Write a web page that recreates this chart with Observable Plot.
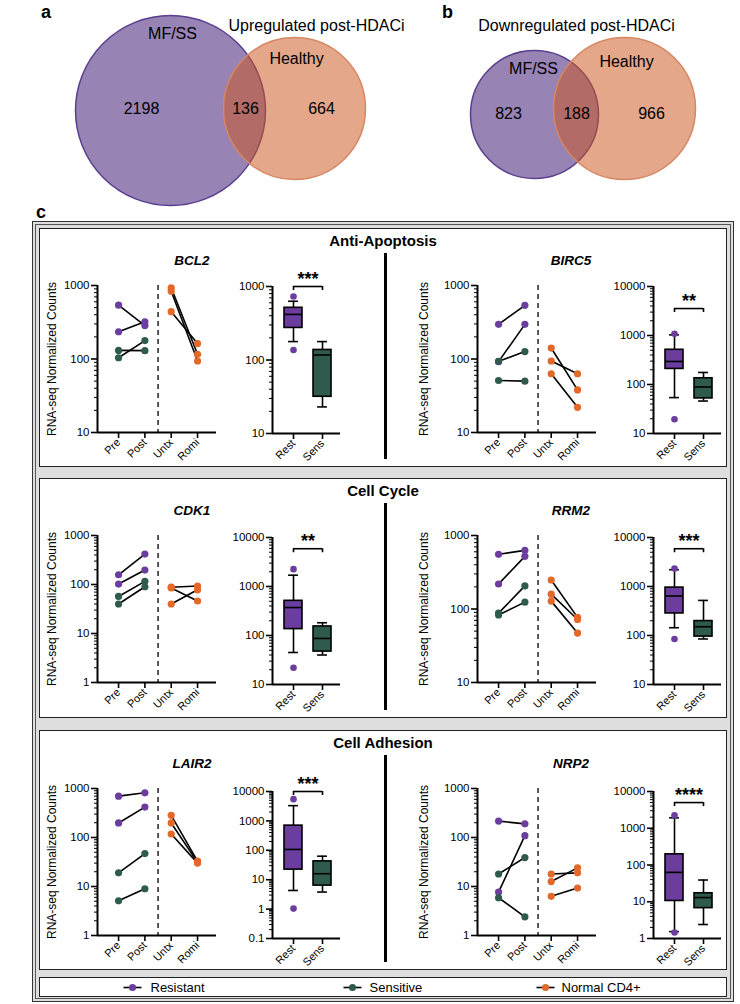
<!DOCTYPE html>
<html><head><meta charset="utf-8">
<script src="https://cdn.jsdelivr.net/npm/d3@7"></script>
<script src="https://cdn.jsdelivr.net/npm/@observablehq/plot@0.6"></script>
<style>
body{margin:0;background:#fff;font-family:"Liberation Sans",Arial,sans-serif;}
#fig{position:relative;width:740px;height:1004px;overflow:hidden;background:#fff;}
.t{position:absolute;line-height:1;white-space:nowrap;color:#000;}
</style></head>
<body><div id="fig"></div>
<script>
// ---------------- DATA ----------------
const vennTitles = ["Upregulated post-HDACi", "Downregulated post-HDACi"];
const vennSets = ["MF/SS", "Healthy"];
const vennUpCounts = [2198, 136, 664];      // MF/SS only, both, Healthy only
const vennDownCounts = [823, 188, 966];

const conditions = ["Pre", "Post", "Untx", "Romi"];
const boxGroups = ["Rest", "Sens"];
const legendNames = ["Resistant", "Sensitive", "Normal CD4+"];
const sections = ["Anti-Apoptosis", "Cell Cycle", "Cell Adhesion"];
const geneNames = ["BCL2", "BIRC5", "CDK1", "RRM2", "LAIR2", "NRP2"];
const patientGroups = ["Resistant", "Resistant", "Sensitive", "Sensitive"];

// paired values: pre/post (patients), untx/romi (normal CD4+)
const bcl2Pre = [540, 235, 131, 104], bcl2Post = [285, 320, 130, 178];
const bcl2Untx = [930, 836, 440], bcl2Romi = [116, 94, 162];
const birc5Pre = [296, 92, 93, 51], birc5Post = [537, 296, 126, 50];
const birc5Untx = [141, 94, 63], birc5Romi = [38, 63, 22];
const cdk1Pre = [158, 102, 57, 40], cdk1Post = [417, 197, 116, 90];
const cdk1Untx = [88, 85, 40], cdk1Romi = [93, 46, 78];
const rrm2Pre = [555, 219, 88, 83], rrm2Post = [628, 520, 206, 124];
const rrm2Untx = [248, 159, 128], rrm2Romi = [77, 72, 47];
const lair2Pre = [698, 198, 19, 5.1], lair2Post = [817, 417, 47, 9];
const lair2Untx = [283, 198, 118], lair2Romi = [33, 31, 30];
const nrp2Pre = [216, 7.7, 18, 5.9], nrp2Post = [190, 109, 39, 2.4];
const nrp2Untx = [18, 12.6, 6.3], nrp2Romi = [19, 24, 9.3];

// box summaries: [whisker low, Q1, median, Q3, whisker high] and outliers
const bcl2Rest = [178, 273, 417, 513, 630], bcl2RestOut = [730, 137];
const bcl2Sens = [23, 31.6, 117, 137, 178], bcl2SensOut = [];
const birc5Rest = [54, 208, 295, 511, 1030], birc5RestOut = [1080, 19.6];
const birc5Sens = [46, 52, 89, 134, 176], birc5SensOut = [];
const cdk1Rest = [45, 135, 372, 510, 1700], cdk1RestOut = [2260, 22];
const cdk1Sens = [40, 47, 87, 153, 182], cdk1SensOut = [];
const rrm2Rest = [144, 282, 640, 950, 2200], rrm2RestOut = [2320, 85];
const rrm2Sens = [85, 95, 151, 197, 520], rrm2SensOut = [];
const lair2Rest = [4.3, 22, 107, 690, 3300], lair2RestOut = [5500, 1.04];
const lair2Sens = [3.8, 6.3, 16, 42, 63], lair2SensOut = [];
const nrp2Rest = [1.54, 10.5, 63, 195, 1920], nrp2RestOut = [2240, 1.45];
const nrp2Sens = [2.4, 6.7, 13, 17, 39], nrp2SensOut = [];

// significance annotations
const sigStars = ["***", "**", "**", "***", "***", "****"];
const sigLevel = [1000, 3550, 5900, 5900, 10000, 5000];

// axis domains (y, log)
const lineDomains = [[10, 1000], [10, 1000], [1, 1000], [10, 1000], [1, 1000], [1, 1000]];
const boxDomains = [[10, 1000], [10, 10000], [10, 10000], [10, 10000], [0.1, 10000], [1, 10000]];

// ---------------- STYLE / LAYOUT ----------------
const FONT = '"Liberation Sans", Arial, sans-serif';
const groupColors = ["#6A3D9E", "#2F5B4F", "#E2692A"];
const vennColors = {purple: "#523082", purpleStroke: "#5A3F8E", orange: "#CC561F", orangeStroke: "#D68763"};
const L = {
  outer: {x: 32, y: 221, w: 702, h: 781},
  panels: [{top: 228, bottom: 467}, {top: 478, bottom: 718}, {top: 730, bottom: 970}],
  panelX: 39, panelW: 688,
  axisTop: [285, 535, 788], boxTopShift: [1, 2, 3], plotH: 147,
  lineAxisX: [97, 477], boxAxisX: [272, 653], ylabelX: [52, 424], geneX: [192, 571],
  legend: {top: 977, h: 20}
};

const fig = document.getElementById("fig");
function addDiv(html, css) {
  const d = document.createElement("div");
  d.className = "t"; d.innerHTML = html; d.style.cssText += css; fig.appendChild(d); return d;
}
function addBox(css) {
  const d = document.createElement("div");
  d.style.cssText = "position:absolute;box-sizing:border-box;" + css; fig.appendChild(d); return d;
}
function addPlot(svg, left, top) {
  svg.style.position = "absolute"; svg.style.left = left + "px"; svg.style.top = top + "px";
  fig.appendChild(svg);
}
function logTicks(dom) {
  const majors = [], minors = [];
  const e0 = Math.round(Math.log10(dom[0])), e1 = Math.round(Math.log10(dom[1]));
  for (let e = e0; e <= e1; e++) {
    majors.push(+Math.pow(10, e).toPrecision(1));
    if (e < e1) for (let m = 2; m <= 9; m++) minors.push(+(m * Math.pow(10, e)).toPrecision(2));
  }
  return {majors, minors};
}
const plotStyle = {fontFamily: FONT, fontSize: "11px", color: "#000", background: "transparent", overflow: "visible"};

// ---------------- VENN ----------------
const vennLayout = [
  {cx: 170, cy: 110, r: 95, set: 0}, {cx: 294, cy: 108, r: 71, set: 1},
  {cx: 534, cy: 114, r: 64, set: 0}, {cx: 624, cy: 108, r: 71, set: 1}
];
const vennText = [
  {x: 316, y: 25, s: vennTitles[0]}, {x: 576, y: 25, s: vennTitles[1]},
  {x: 172, y: 33, s: vennSets[0]}, {x: 296, y: 58, s: vennSets[1]},
  {x: 533, y: 68, s: vennSets[0]}, {x: 626, y: 61, s: vennSets[1]},
  {x: 141, y: 108, s: vennUpCounts[0]}, {x: 245, y: 108, s: vennUpCounts[1]}, {x: 321, y: 108, s: vennUpCounts[2]},
  {x: 508, y: 113, s: vennDownCounts[0]}, {x: 576, y: 113, s: vennDownCounts[1]}, {x: 651, y: 113, s: vennDownCounts[2]}
];
addPlot(Plot.plot({
  width: 740, height: 210, margin: 0,
  x: {domain: [0, 740], range: [0, 740], axis: null},
  y: {domain: [0, 210], range: [0, 210], axis: null},
  r: {type: "identity"},
  style: plotStyle,
  marks: [
    Plot.dot(vennLayout.filter(d => d.set === 0), {x: "cx", y: "cy", r: "r", fill: vennColors.purple, fillOpacity: 0.6, stroke: vennColors.purpleStroke, strokeWidth: 1.5}),
    Plot.dot(vennLayout.filter(d => d.set === 1), {x: "cx", y: "cy", r: "r", fill: vennColors.orange, fillOpacity: 0.52, stroke: vennColors.orangeStroke, strokeWidth: 1.5}),
    Plot.text(vennText, {x: "x", y: "y", text: d => String(d.s), fontSize: 16, fill: "#000"})
  ]
}), 0, 0);
addDiv("a", "left:41px;top:3px;font-size:18px;font-weight:bold;");
addDiv("b", "left:442px;top:3px;font-size:18px;font-weight:bold;");
addDiv("c", "left:36px;top:203px;font-size:18px;font-weight:bold;");

// ---------------- PANEL FRAMES ----------------
addBox(`left:${L.outer.x}px;top:${L.outer.y}px;width:${L.outer.w}px;height:${L.outer.h}px;background:#DEDEDE;border:1px solid #333;box-shadow:inset 0 0 0 2px #DEDEDE, inset 0 0 0 3px #555;`);
L.panels.forEach((p, k) => {
  addBox(`left:${L.panelX}px;top:${p.top}px;width:${L.panelW}px;height:${p.bottom - p.top}px;background:#fff;border:1.5px solid #222;`);
  addBox(`left:384px;top:${p.top + 25}px;width:3px;height:${p.bottom - p.top - 33}px;background:#000;`);
  addDiv(sections[k], `left:${L.panelX}px;width:${L.panelW}px;text-align:center;top:${p.top + 5}px;font-size:15px;font-weight:bold;`);
});
addBox(`left:${L.panelX}px;top:${L.legend.top}px;width:${L.panelW}px;height:${L.legend.h}px;background:#fff;border:1.5px solid #222;`);

// ---------------- GENES TABLE ----------------
const geneData = [
  {pre: bcl2Pre, post: bcl2Post, untx: bcl2Untx, romi: bcl2Romi, rest: bcl2Rest, restOut: bcl2RestOut, sens: bcl2Sens, sensOut: bcl2SensOut},
  {pre: birc5Pre, post: birc5Post, untx: birc5Untx, romi: birc5Romi, rest: birc5Rest, restOut: birc5RestOut, sens: birc5Sens, sensOut: birc5SensOut},
  {pre: cdk1Pre, post: cdk1Post, untx: cdk1Untx, romi: cdk1Romi, rest: cdk1Rest, restOut: cdk1RestOut, sens: cdk1Sens, sensOut: cdk1SensOut},
  {pre: rrm2Pre, post: rrm2Post, untx: rrm2Untx, romi: rrm2Romi, rest: rrm2Rest, restOut: rrm2RestOut, sens: rrm2Sens, sensOut: rrm2SensOut},
  {pre: lair2Pre, post: lair2Post, untx: lair2Untx, romi: lair2Romi, rest: lair2Rest, restOut: lair2RestOut, sens: lair2Sens, sensOut: lair2SensOut},
  {pre: nrp2Pre, post: nrp2Post, untx: nrp2Untx, romi: nrp2Romi, rest: nrp2Rest, restOut: nrp2RestOut, sens: nrp2Sens, sensOut: nrp2SensOut}
].map((g, i) => ({...g, name: geneNames[i], stars: sigStars[i], level: sigLevel[i], lineDomain: lineDomains[i], boxDomain: boxDomains[i]}));

const colorScale = {domain: legendNames, range: groupColors};

function yAxes(dom) {
  const {majors, minors} = logTicks(dom);
  return [
    Plot.axisY({ticks: minors, tickSize: 3, tickFormat: () => "", label: null, strokeWidth: 1}),
    Plot.axisY({ticks: majors, tickSize: 6, tickPadding: 2, tickFormat: d => String(d), label: null, fontSize: 11.5, strokeWidth: 1.6})
  ];
}

function lineChart(g, axisX, axisTop) {
  const ML = 44, MR = 6, MT = 12, MB = 42, W = 119;
  const xDom = [-0.8, 3.72];
  const links = [], dots = [];
  g.pre.forEach((v, i) => links.push({x1: 0, y1: v, x2: 1, y2: g.post[i]}));
  g.untx.forEach((v, i) => links.push({x1: 2, y1: v, x2: 3, y2: g.romi[i]}));
  for (const name of legendNames.slice(0, 2)) {
    g.pre.forEach((v, i) => { if (patientGroups[i] === name) dots.push({x: 0, y: v, grp: name}); });
    g.post.forEach((v, i) => { if (patientGroups[i] === name) dots.push({x: 1, y: v, grp: name}); });
  }
  g.untx.forEach(v => dots.push({x: 2, y: v, grp: legendNames[2]}));
  g.romi.forEach(v => dots.push({x: 3, y: v, grp: legendNames[2]}));
  const svg = Plot.plot({
    width: ML + W + MR, height: MT + L.plotH + MB,
    marginLeft: ML, marginRight: MR, marginTop: MT, marginBottom: MB,
    x: {type: "linear", domain: xDom, axis: null},
    y: {type: "log", domain: g.lineDomain, axis: null},
    color: colorScale,
    style: plotStyle,
    marks: [
      ...yAxes(g.lineDomain),
      Plot.axisX({ticks: [0, 1, 2, 3], tickFormat: i => conditions[i], tickRotate: -45, tickSize: 6, tickPadding: 2, label: null, fontSize: 11, strokeWidth: 1.6}),
      Plot.ruleX([xDom[0]], {strokeWidth: 2}),
      Plot.ruleY([g.lineDomain[0]], {strokeWidth: 2}),
      Plot.ruleX([1.5], {strokeDasharray: "5,4", strokeWidth: 1.3}),
      Plot.link(links, {x1: "x1", y1: "y1", x2: "x2", y2: "y2", stroke: "#000", strokeWidth: 1.6}),
      Plot.dot(dots, {x: "x", y: "y", fill: "grp", r: 3.6})
    ]
  });
  addPlot(svg, axisX - ML, axisTop - MT);
}

function boxChart(g, axisX, axisTop) {
  const ML = 44, MR = 6, MT = 24, MB = 42, W = 68;
  const xDom = [-0.724, 1.62];
  const stats = [g.rest, g.sens].map((s, i) => ({i, lo: s[0], q1: s[1], med: s[2], q3: s[3], hi: s[4], grp: legendNames[i]}));
  const caps = stats.flatMap(s => [{i: s.i, v: s.lo}, {i: s.i, v: s.hi}]);
  const outs = [...g.restOut.map(v => ({i: 0, v, grp: legendNames[0]})), ...g.sensOut.map(v => ({i: 1, v, grp: legendNames[1]}))];
  const bw = 0.31, cw = 0.17;
  const svg = Plot.plot({
    width: ML + W + MR, height: MT + L.plotH + MB,
    marginLeft: ML, marginRight: MR, marginTop: MT, marginBottom: MB,
    x: {type: "linear", domain: xDom, axis: null},
    y: {type: "log", domain: g.boxDomain, axis: null},
    color: colorScale,
    style: plotStyle,
    marks: [
      ...yAxes(g.boxDomain),
      Plot.axisX({ticks: [0, 1], tickFormat: i => boxGroups[i], tickRotate: -45, tickSize: 6, tickPadding: 2, label: null, fontSize: 11, strokeWidth: 1.6}),
      Plot.ruleX([xDom[0]], {strokeWidth: 2}),
      Plot.ruleY([g.boxDomain[0]], {strokeWidth: 2}),
      Plot.ruleX(stats, {x: "i", y1: "lo", y2: "hi", strokeWidth: 1.6}),
      Plot.ruleY(caps, {y: "v", x1: d => d.i - cw, x2: d => d.i + cw, strokeWidth: 1.6}),
      Plot.rect(stats, {x1: d => d.i - bw, x2: d => d.i + bw, y1: "q1", y2: "q3", fill: "grp", stroke: "#000", strokeWidth: 1.6}),
      Plot.ruleY(stats, {y: "med", x1: d => d.i - bw, x2: d => d.i + bw, strokeWidth: 1.6}),
      Plot.dot(outs, {x: "i", y: "v", fill: "grp", r: 3.3}),
      Plot.ruleY([g.level], {x1: 0, x2: 1, strokeWidth: 1.6}),
      Plot.ruleX([0, 1], {y1: g.level, y2: g.level, insetBottom: -4, strokeWidth: 1.6}),
      Plot.text([g.stars], {x: 0.5, y: g.level, text: d => d, dy: -7, fontSize: 18, fontWeight: "bold", fill: "#000"})
    ]
  });
  addPlot(svg, axisX - ML, axisTop - MT);
}

geneData.forEach((g, idx) => {
  const row = Math.floor(idx / 2), side = idx % 2;
  const top = L.axisTop[row];
  lineChart(g, L.lineAxisX[side], top);
  boxChart(g, L.boxAxisX[side], top + L.boxTopShift[row]);
  addDiv(g.name, `left:${L.geneX[side] - 100}px;width:200px;text-align:center;top:${top - 31}px;font-size:13.5px;font-weight:bold;font-style:italic;`);
  addDiv("RNA-seq Normalized Counts", `left:${L.ylabelX[side] - 100}px;width:200px;text-align:center;top:${top + L.plotH / 2 - 6}px;font-size:12px;transform:rotate(-90deg);`);
});

// ---------------- LEGEND ----------------
const legendLayout = [{x: 132, tx: 150}, {x: 352, tx: 369}, {x: 545, tx: 561}];
const legendRows = legendNames.map((n, i) => ({name: n, ...legendLayout[i]}));
addPlot(Plot.plot({
  width: 740, height: 20, margin: 0,
  x: {domain: [0, 740], range: [0, 740], axis: null},
  y: {domain: [0, 1], range: [0, 20], axis: null},
  color: colorScale,
  style: plotStyle,
  marks: [
    Plot.link(legendRows, {x1: d => d.x - 9, x2: d => d.x + 9, y1: 0.5, y2: 0.5, stroke: "#000", strokeWidth: 1.6}),
    Plot.dot(legendRows, {x: "x", y: 0.5, fill: "name", r: 3.6}),
    Plot.text(legendRows, {x: "tx", y: 0.5, text: "name", textAnchor: "start", fontSize: 13, fill: "#000"})
  ]
}), 0, L.legend.top);
</script>
</body></html>
